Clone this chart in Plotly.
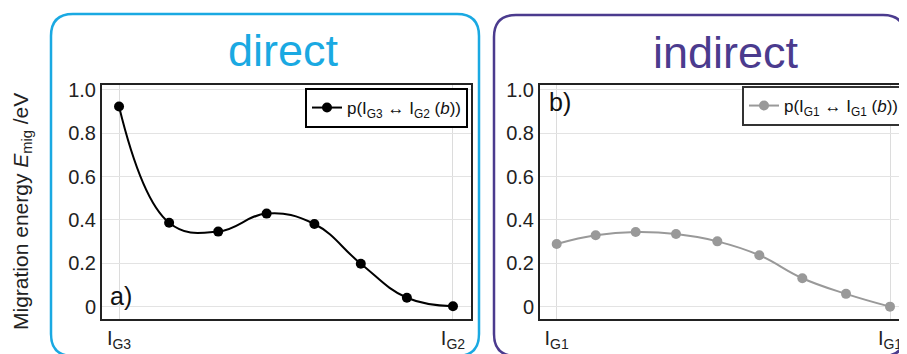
import plotly.graph_objects as go

# ---- data ----
direct_x = [0.0, 0.150, 0.297, 0.442, 0.585, 0.724, 0.862, 1.0]
direct_E = [0.923, 0.387, 0.346, 0.429, 0.381, 0.198, 0.041, 0.002]
indirect_x = [0.0, 0.117, 0.237, 0.358, 0.482, 0.608, 0.737, 0.868, 1.0]
indirect_E = [0.289, 0.329, 0.344, 0.335, 0.301, 0.237, 0.131, 0.059, 0.0]

direct_ticks = ["I<sub>G3</sub>", "I<sub>G2</sub>"]
indirect_ticks = ["I<sub>G1</sub>", "I<sub>G1</sub>"]
y_ticks = [0, 0.2, 0.4, 0.6, 0.8, 1.0]
y_ticklabels = ["0", "0.2", "0.4", "0.6", "0.8", "1.0"]

direct_name = "p(I<sub>G3</sub> \u2194 I<sub>G2</sub> (<i>b</i>))"
indirect_name = "p(I<sub>G1</sub> \u2194 I<sub>G1</sub> (<i>b</i>))"

# page has an 8px body margin: figure sized to fit the window
OFF = 8
W, H = 907 - OFF, 354 - OFF
FONT = "Liberation Sans, Arial, sans-serif"
BLUE = "#1AA9E2"
PURPLE = "#4B3B8E"

def px(x):
    return (x - OFF) / W

def py(y):
    return 1 - (y - OFF) / H

fig = go.Figure()

fig.add_trace(go.Scatter(
    x=direct_x, y=direct_E, mode="lines+markers", name=direct_name,
    line=dict(color="black", width=2, shape="spline", smoothing=1.2),
    marker=dict(color="black", size=10),
    xaxis="x", yaxis="y", legend="legend",
))
fig.add_trace(go.Scatter(
    x=indirect_x, y=indirect_E, mode="lines+markers", name=indirect_name,
    line=dict(color="#999999", width=2, shape="spline", smoothing=1.2),
    marker=dict(color="#999999", size=10),
    xaxis="x2", yaxis="y2", legend="legend2",
))

ydom = [py(319), py(85)]
common_y = dict(
    range=[-0.057, 1.022], tickvals=y_ticks, ticktext=y_ticklabels,
    showgrid=True, gridcolor="#e3e3e3", gridwidth=1, zeroline=False,
    showline=True, mirror=True, linecolor="#222222", linewidth=2,
    ticks="", tickfont=dict(family=FONT, size=20, color="#222222"),
    domain=ydom, automargin=False,
)
common_x = dict(
    tickvals=[0, 1], showgrid=True, gridcolor="#dcdcdc", gridwidth=1,
    zeroline=False, showline=True, mirror=True, linecolor="#222222",
    linewidth=2, ticks="", tickfont=dict(family=FONT, size=20, color="#222222"),
    automargin=False,
)

fig.update_layout(
    width=W, height=H,
    margin=dict(l=0, r=0, t=0, b=0),
    paper_bgcolor="white", plot_bgcolor="white",
    showlegend=True,
    xaxis=dict(common_x, domain=[px(102), px(471)], range=[-0.051, 1.054],
               ticktext=direct_ticks),
    yaxis=dict(common_y, anchor="x"),
    xaxis2=dict(common_x, domain=[px(540), px(906)], range=[-0.050, 1.048],
                ticktext=indirect_ticks, anchor="y2"),
    yaxis2=dict(common_y, anchor="x2"),
    legend=dict(x=px(468), y=py(88), xanchor="right", yanchor="top",
                bordercolor="black", borderwidth=2, bgcolor="white",
                font=dict(family=FONT, size=17, color="#111111"),
                itemwidth=30, tracegroupgap=0),
    legend2=dict(x=px(905), y=py(86), xanchor="right", yanchor="top",
                 bordercolor="#333333", borderwidth=2, bgcolor="white",
                 font=dict(family=FONT, size=17, color="#111111"),
                 itemwidth=30, tracegroupgap=0),
)

def rounded_box(x0, y0, x1, y1, r):
    rx, ry = r / W, r / H
    X0, X1 = px(x0), px(x1)
    Y0, Y1 = py(y0), py(y1)  # Y0 top (larger), Y1 bottom
    return (f"M {X0+rx},{Y0} L {X1-rx},{Y0} Q {X1},{Y0} {X1},{Y0-ry} "
            f"L {X1},{Y1+ry} Q {X1},{Y1} {X1-rx},{Y1} "
            f"L {X0+rx},{Y1} Q {X0},{Y1} {X0},{Y1+ry} "
            f"L {X0},{Y0-ry} Q {X0},{Y0} {X0+rx},{Y0} Z")

fig.add_shape(type="path", path=rounded_box(51, 14, 479, 356, 22),
              xref="paper", yref="paper", line=dict(color=BLUE, width=2.5),
              fillcolor="rgba(0,0,0,0)", layer="below")
fig.add_shape(type="path", path=rounded_box(494, 15, 905, 356, 22),
              xref="paper", yref="paper", line=dict(color=PURPLE, width=2.5),
              fillcolor="rgba(0,0,0,0)", layer="below")

fig.add_annotation(text="direct", x=px(283), y=py(50), xref="paper", yref="paper",
                   showarrow=False, font=dict(family=FONT, size=45, color=BLUE),
                   xanchor="center", yanchor="middle")
fig.add_annotation(text="indirect", x=px(726), y=py(52), xref="paper", yref="paper",
                   showarrow=False, font=dict(family=FONT, size=45, color=PURPLE),
                   xanchor="center", yanchor="middle")
fig.add_annotation(text="Migration energy <i>E</i><sub>mig</sub> /eV",
                   x=px(22), y=py(212), xref="paper", yref="paper",
                   showarrow=False, textangle=-90,
                   font=dict(family=FONT, size=21, color="#222222"),
                   xanchor="center", yanchor="middle")
fig.add_annotation(text="a)", x=px(121), y=py(296), xref="paper", yref="paper",
                   showarrow=False, font=dict(family=FONT, size=25, color="#111111"),
                   xanchor="center", yanchor="middle")
fig.add_annotation(text="b)", x=px(560), y=py(102), xref="paper", yref="paper",
                   showarrow=False, font=dict(family=FONT, size=25, color="#111111"),
                   xanchor="center", yanchor="middle")

fig.write_html("out.html")
